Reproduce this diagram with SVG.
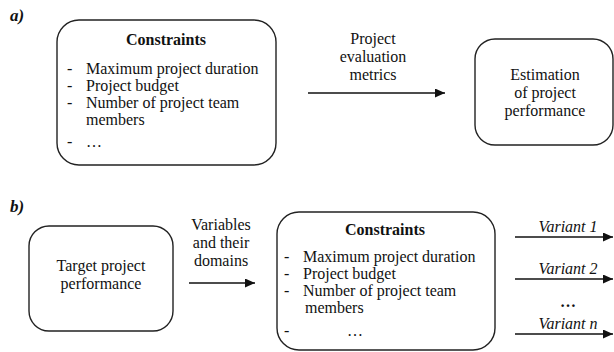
<svg xmlns="http://www.w3.org/2000/svg" width="614" height="352" viewBox="0 0 614 352" font-family="'Liberation Serif', 'Times New Roman', Tinos, 'DejaVu Serif', serif">
<style>
  text { font-family: 'Liberation Serif', 'Times New Roman', Tinos, 'DejaVu Serif', serif; font-size: 16px; fill: #111; }
  .c { text-anchor: middle; }
  .b { font-weight: bold; }
  .i { font-style: italic; }
  .lbl { font-weight: bold; font-style: italic; font-size: 17px; }
  .box { fill: #fff; stroke: #222; stroke-width: 1.4; }
  .conn { stroke: #111; stroke-width: 1.3; fill: none; marker-end: url(#ah); }
</style>
<defs>
  <marker id="ah" markerUnits="userSpaceOnUse" markerWidth="11" markerHeight="9" refX="10" refY="4.5" orient="auto">
    <path d="M0,0 L10,4.5 L0,9 Z" fill="#111"/>
  </marker>
</defs>
<rect width="614" height="352" fill="#fff"/>
<text x="10" y="21" class="lbl">a)</text>
<text x="10" y="212" class="lbl">b)</text>

<g id="a-constraints">
  <rect class="box" x="57" y="20" width="219" height="145" rx="22"/>
  <text x="166" y="45" class="c b">Constraints</text>
  <text x="67" y="74">-</text><text x="86" y="74">Maximum project duration</text>
  <text x="67" y="91">-</text><text x="86" y="91">Project budget</text>
  <text x="67" y="108">-</text><text x="86" y="108">Number of project team</text>
  <text x="86" y="125">members</text>
  <text x="67" y="147">-</text><text x="86" y="147">…</text>
</g>

<g id="a-estimation">
  <rect class="box" x="475" y="39" width="138" height="106" rx="20"/>
  <text x="545" y="80" class="c">Estimation</text>
  <text x="545" y="98" class="c">of project</text>
  <text x="545" y="116" class="c">performance</text>
</g>

<g id="b-target">
  <rect class="box" x="29" y="226" width="144" height="105" rx="20"/>
  <text x="101" y="271" class="c">Target project</text>
  <text x="101" y="289" class="c">performance</text>
</g>

<g id="b-constraints">
  <rect class="box" x="277" y="212" width="218" height="138" rx="22"/>
  <text x="385" y="235" class="c b">Constraints</text>
  <text x="284" y="262">-</text><text x="303" y="262">Maximum project duration</text>
  <text x="284" y="279">-</text><text x="303" y="279">Project budget</text>
  <text x="284" y="296">-</text><text x="303" y="296">Number of project team</text>
  <text x="305" y="313">members</text>
  <text x="284" y="336">-</text><text x="347" y="336">…</text>
</g>

<g id="connectors">
  <line class="conn" x1="308" y1="93" x2="445" y2="93"/>
  <text x="373" y="44" class="c">Project</text>
  <text x="373" y="62" class="c">evaluation</text>
  <text x="373" y="80" class="c">metrics</text>

  <line class="conn" x1="189" y1="283" x2="255" y2="283"/>
  <text x="221" y="230" class="c">Variables</text>
  <text x="221" y="248" class="c">and their</text>
  <text x="221" y="266" class="c">domains</text>

  <line class="conn" x1="515" y1="237" x2="613" y2="237"/>
  <text x="568" y="232" class="c i">Variant 1</text>
  <line class="conn" x1="515" y1="279" x2="613" y2="279"/>
  <text x="568" y="274" class="c i">Variant 2</text>
  <text x="568" y="307" class="c b">…</text>
  <line class="conn" x1="515" y1="334" x2="613" y2="334"/>
  <text x="568" y="329" class="c i">Variant n</text>
</g>
</svg>
